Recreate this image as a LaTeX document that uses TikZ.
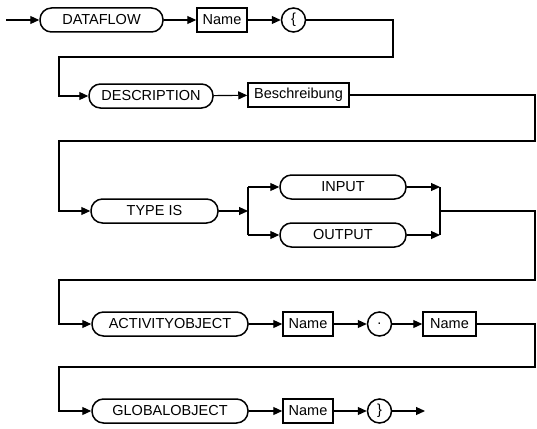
\documentclass[tikz,border=0pt]{standalone}
\usepackage{fontspec}
\setmainfont{Liberation Sans}
\usetikzlibrary{arrows.meta}
\tikzset{every picture/.style={line width=1.1pt}}
\begin{document}
\begin{tikzpicture}[x=1pt, y=-1pt, line join=miter, >={Triangle[length=9pt,width=8pt]},
		font=\fontsize{14.5}{17}\selectfont,
		kw/.style={draw, line width=1.5pt, rounded corners=11.5pt, minimum height=24pt, inner sep=0pt},
		nm/.style={draw, line width=1.5pt, minimum height=24pt, minimum width=50pt, inner sep=1pt},
		sym/.style={draw, circle, line width=1.5pt, minimum size=24pt, inner sep=0pt}]
	\useasboundingbox (0,0) rectangle (537,428);
	% row 1
	\path (6,20) coordinate (start)
		(101.5,20) node[kw, minimum width=123pt] (dataflow) {DATAFLOW}
		(222,20) node[nm] (name1) {Name}
		(293.5,20) node[sym] (lbrace) {\{};
	% row 2
	\path (151,96) node[kw, minimum width=124pt] (descr) {DESCRIPTION}
		(298.5,95) node[nm, minimum width=101pt] (beschr) {Beschreibung};
	% row 3
	\path (154.5,211) node[kw, minimum width=127pt] (typeis) {TYPE IS}
		(248,211) coordinate (split)
		(343,187) node[kw, minimum width=126pt] (input) {INPUT}
		(343,235) node[kw, minimum width=126pt] (output) {OUTPUT}
		(440,211) coordinate (join)
		(248,187) coordinate (s1) (248,235) coordinate (s2)
		(440,187) coordinate (j1) (440,235) coordinate (j2);
	% row 4
	\path (170,324) node[kw, minimum width=156pt] (activity) {ACTIVITYOBJECT}
		(308,324) node[nm] (name2) {Name}
		(379.5,324) node[sym] (dot) {.}
		(449.5,324) node[nm, minimum width=53pt] (name3) {Name};
	% row 5
	\path (170,411) node[kw, minimum width=156pt] (global) {GLOBALOBJECT}
		(308,411) node[nm] (name4) {Name}
		(379.5,411) node[sym] (rbrace) {\}}
		(425,411) coordinate (end);
	% straight arrows
	\foreach \a/\b in {start/dataflow, dataflow/name1, name1/lbrace, descr/beschr, typeis/split,
			s1/input, s2/output, input/j1, output/j2, activity/name2, name2/dot, dot/name3,
			global/name4, name4/rbrace, rbrace/end}
		\draw[->] (\a) -- (\b);
	\draw (s1) -- (s2) (j1) -- (j2);
	% returns
	\draw[->] (lbrace.east) -| (393,57) -| (59,96) -- (descr.west);
	\draw[->] (beschr.east) -| (535,141) -| (59,211) -- (typeis.west);
	\draw[->] (join) -| (535,280) -| (59,324) -- (activity.west);
	\draw[->] (name3.east) -| (535,367) -| (59,411) -- (global.west);
\end{tikzpicture}
\end{document}
